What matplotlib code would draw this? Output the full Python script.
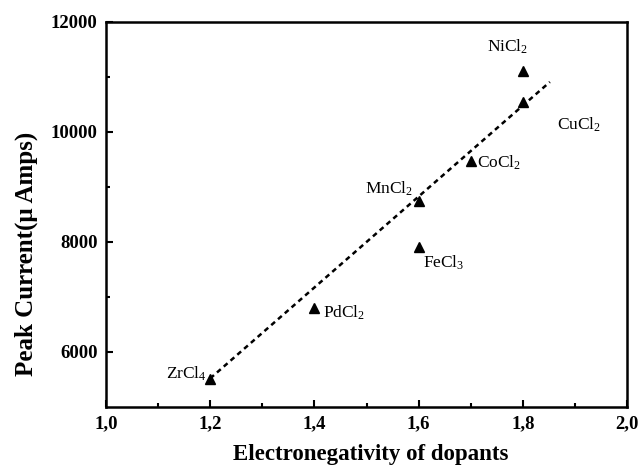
import matplotlib
matplotlib.use("Agg")
import matplotlib.pyplot as plt

plt.rcParams['font.family'] = ['Liberation Serif', 'DejaVu Serif']
plt.rcParams['mathtext.fontset'] = 'custom'
plt.rcParams['mathtext.rm'] = 'Liberation Serif'
plt.rcParams['mathtext.it'] = 'Liberation Serif:italic'
plt.rcParams['mathtext.bf'] = 'Liberation Serif:bold'

# data
dopants = ['ZrCl$_4$', 'PdCl$_2$', 'FeCl$_3$', 'MnCl$_2$', 'CoCl$_2$', 'CuCl$_2$', 'NiCl$_2$']
electroneg = [1.2, 1.4, 1.6, 1.6, 1.7, 1.8, 1.8]
peak_current = [5500, 6800, 7900, 8750, 9480, 10550, 11100]
fit_x = [1.2, 1.852]
fit_y = [5520, 10910]
x_ticks = [1.0, 1.2, 1.4, 1.6, 1.8, 2.0]
x_tick_labels = ['1,0', '1,2', '1,4', '1,6', '1,8', '2,0']
y_ticks = [6000, 8000, 10000, 12000]

# label placement (pixel offsets, ha)
label_offsets = [(-3, 1, 'right'), (9, -10, 'left'), (4, -20, 'left'),
                 (-6, 7, 'right'), (6, -7, 'left'), (34, -28, 'left'),
                 (-36, 20, 'left')]

fig = plt.figure(figsize=(6.4, 4.72), dpi=100)
ax = fig.add_axes([106/640, 1 - 407/472, (627-106)/640, (407-22)/472])

ax.plot(fit_x, fit_y, color='black', lw=1.8, linestyle=(0, (2.0, 1.6)))
ax.plot(electroneg, peak_current, linestyle='none', marker='^', color='black', markersize=7.5)

for name, x, y, (dx, dy, ha) in zip(dopants, electroneg, peak_current, label_offsets):
    ax.annotate(name, (x, y), xytext=(dx, dy), textcoords='offset pixels',
                ha=ha, va='baseline', fontsize=12.5)

ax.set_xlim(1.0, 2.0)
ax.set_ylim(5000, 12000)
ax.set_xticks(x_ticks)
ax.set_xticklabels(x_tick_labels)
ax.set_yticks(y_ticks)
ax.set_xticks([1.1, 1.3, 1.5, 1.7, 1.9], minor=True)
ax.set_yticks([7000, 9000, 11000], minor=True)

for lab in ax.get_xticklabels() + ax.get_yticklabels():
    lab.set_fontweight('bold')
    lab.set_fontsize(13.5)

ax.tick_params(which='major', direction='in', length=5, width=1.5, top=False, right=False, pad=6)
ax.tick_params(which='minor', direction='in', length=3, width=1.5, top=False, right=False)
for s in ax.spines.values():
    s.set_linewidth(1.8)

ax.set_xlabel('Electronegativity of dopants', fontsize=16.5, fontweight='bold')
ax.set_ylabel('Peak Current(\u03bc Amps)', fontsize=18, fontweight='bold')
ax.xaxis.set_label_coords(0.508, -0.097)
ax.yaxis.set_label_coords(-0.13, 0.397)

fig.savefig('out.png', dpi=100)
